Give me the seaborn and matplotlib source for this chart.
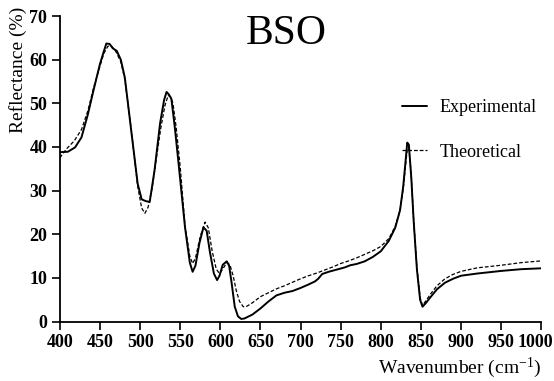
import matplotlib
matplotlib.use("Agg")
import matplotlib.pyplot as plt
import matplotlib.transforms as mtransforms
import seaborn as sns
import pandas as pd

# Measured reflectance spectrum
exp_wavenumber = [400, 410, 419, 427, 435, 442, 450, 455, 458, 462, 466, 471, 476, 481,
                  489, 497, 502, 507, 512, 518, 525, 530, 533, 536, 539, 543, 548, 556,
                  562, 565.5, 569, 574, 579, 583, 587, 592, 596, 599, 603, 608, 611,
                  614, 618, 622, 626, 630, 640, 650, 660, 670, 680, 690, 700, 710,
                  718, 722, 727, 735, 745, 755, 762, 770, 780, 790, 800, 810, 818,
                  824, 828, 831, 833, 835, 838, 841, 845, 849, 852, 856, 862, 870,
                  880, 890, 900, 920, 950, 975, 1000]
exp_reflectance = [38.8, 38.9, 39.9, 42.2, 47.5, 53.0, 59.0, 62.0, 63.7, 63.6, 62.6, 62.0,
                   60.0, 55.9, 43.7, 31.6, 28.0, 27.6, 27.4, 34.6, 45.5, 50.8, 52.6, 52.0,
                   51.0, 45.0, 36.2, 21.6, 13.5, 11.4, 12.8, 18.0, 21.6, 20.8, 16.0,
                   11.0, 9.5, 10.5, 13.0, 13.8, 12.8, 9.0, 3.4, 1.2, 0.6, 0.7, 1.6, 3.0,
                   4.6, 6.0, 6.6, 7.0, 7.7, 8.5, 9.2, 9.8, 10.9, 11.4, 11.9, 12.4,
                   12.9, 13.2, 13.8, 14.8, 16.1, 18.5, 21.5, 25.5, 31.0, 37.0, 41.0,
                   40.5, 33.0, 23.0, 12.0, 5.0, 3.4, 4.2, 5.6, 7.4, 8.9, 9.8, 10.5,
                   11.0, 11.6, 12.0, 12.2]

# Calculated reflectance spectrum
theo_wavenumber = [400, 408, 418, 427, 435, 442, 450, 455, 460, 465, 470, 476, 481, 489,
                   497, 502, 506, 510, 515, 520, 526, 531, 535, 538, 541, 545, 550, 556,
                   562, 565.5, 569, 575, 581, 585, 590, 595, 599, 603, 608, 612, 616,
                   620, 624, 628.6, 633, 640, 650, 660, 670, 680, 690, 700, 710, 720,
                   730, 740, 750, 760, 770, 780, 790, 800, 810, 818, 824, 828, 831,
                   833, 835, 838, 841, 845, 849, 852, 856, 862, 870, 880, 890, 900,
                   920, 950, 975, 1000]
theo_reflectance = [37.5, 39.5, 41.4, 44.0, 48.3, 53.5, 58.5, 61.5, 63.1, 63.0, 61.8, 59.5,
                    55.5, 44.0, 31.0, 26.0, 24.8, 26.2, 30.5, 37.0, 44.5, 49.5, 51.8, 51.5,
                    50.0, 44.5, 35.5, 22.0, 15.0, 13.3, 14.5, 19.5, 22.8, 21.5, 16.0,
                    12.0, 11.0, 12.0, 13.5, 13.0, 10.5, 7.0, 4.6, 3.4, 3.5, 4.3, 5.7, 6.6,
                    7.5, 8.2, 9.0, 9.8, 10.5, 11.1, 11.8, 12.5, 13.3, 13.9, 14.6, 15.4,
                    16.2, 17.2, 19.0, 21.8, 25.5, 30.5, 36.0, 39.5, 39.8, 33.5, 23.0,
                    12.5, 5.5, 3.7, 4.7, 6.3, 8.2, 9.8, 10.8, 11.5, 12.3, 12.9, 13.5, 13.9]

series_names = ["Experimental", "Theoretical"]

df = pd.concat([
    pd.DataFrame({"wavenumber": exp_wavenumber, "reflectance": exp_reflectance,
                  "series": series_names[0]}),
    pd.DataFrame({"wavenumber": theo_wavenumber, "reflectance": theo_reflectance,
                  "series": series_names[1]}),
], ignore_index=True)

sns.set_theme(style="ticks")
plt.rcParams["font.family"] = ["Liberation Serif", "DejaVu Serif"]
plt.rcParams["text.color"] = "black"
plt.rcParams["axes.labelcolor"] = "black"
plt.rcParams["mathtext.fontset"] = "custom"
plt.rcParams["mathtext.rm"] = "Liberation Serif"
plt.rcParams["mathtext.it"] = "Liberation Serif:italic"
plt.rcParams["mathtext.bf"] = "Liberation Serif:bold"

fig = plt.figure(figsize=(5.54, 3.81), dpi=100)
ax = fig.add_axes([0.108, 0.156, 0.869, 0.802])

sns.lineplot(data=df, x="wavenumber", y="reflectance", hue="series", style="series",
             palette={"Experimental": "black", "Theoretical": "black"},
             dashes={"Experimental": "", "Theoretical": (3, 1.6)},
             estimator=None, sort=False, legend=False, ax=ax)
lines = ax.get_lines()
lines[0].set_linewidth(1.4)
lines[1].set_linewidth(0.9)

ax.set_xlim(400, 1000)
ax.set_ylim(0, 70)
ax.set_xticks(range(400, 1001, 50))
ax.set_yticks(range(0, 71, 10))
sns.despine(ax=ax)
for side in ("left", "bottom"):
    ax.spines[side].set_linewidth(1.3)
    ax.spines[side].set_color("black")
ax.tick_params(axis="both", direction="out", length=6, width=1.2, color="black",
               labelsize=13, labelcolor="black", pad=3)
for lbl in ax.get_xticklabels() + ax.get_yticklabels():
    lbl.set_fontweight("bold")
# keep the last wavenumber label inside the canvas
last = ax.get_xticklabels()[-1]
last.set_transform(last.get_transform() +
                   mtransforms.ScaledTranslation(-4 / 72, 0, fig.dpi_scale_trans))

ax.set_xlabel("Wavenumber (cm$^{-1}$)", loc="right", fontsize=14, labelpad=3,
              color="black")
ax.set_ylabel("")
fig.text(18 / 554, 1 - 7 / 381, "Reflectance (%)", rotation=90,
         ha="center", va="top", fontsize=14, color="black")

ax.text(0.47, 1.005, "BSO", transform=ax.transAxes, ha="center", va="top",
        fontsize=30, color="black")

leg = ax.legend(handles=lines, labels=series_names, loc="upper right",
                bbox_to_anchor=(1.025, 0.78), frameon=False, fontsize=13,
                handlelength=1.4, handletextpad=0.7, labelspacing=1.5)
for t in leg.get_texts():
    t.set_color("black")

fig.savefig("out.png", dpi=100)
